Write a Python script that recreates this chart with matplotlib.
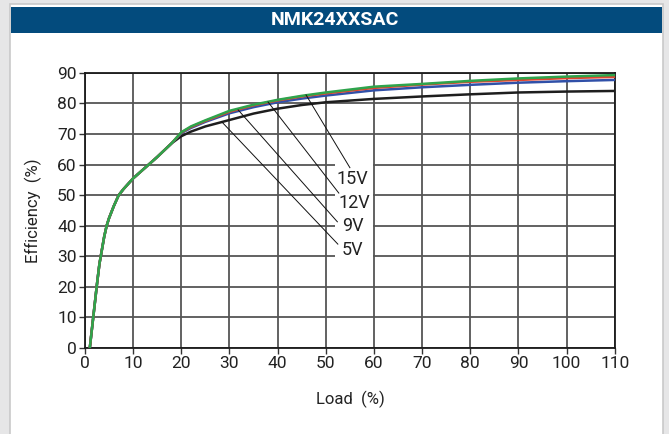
import matplotlib
matplotlib.use("Agg")
import matplotlib.pyplot as plt
from matplotlib.patches import Rectangle

plt.rcParams["font.family"] = ["Liberation Sans Narrow", "Roboto", "DejaVu Sans"]

# load (%) points
load = [1, 1.5, 2, 2.5, 3, 3.5, 4, 4.5, 5, 6, 7, 8, 10, 12, 15, 18, 20,
        22, 25, 30, 35, 40, 45, 50, 60, 70, 80, 90, 100, 110]

# shared low-load part (all outputs overlap below ~20 %)
start = [0, 7, 14, 21, 27.5, 32, 36.5, 40, 42.5, 46.5, 50, 52, 55.5, 58.3, 62.5, 67]

eff_5v = start + [69.3, 70.8, 72.5, 74.6, 76.7, 78.3, 79.5, 80.4, 81.5, 82.3, 83.0, 83.6, 83.9, 84.1]
eff_9v = start + [70.3, 72.0, 74.0, 76.8, 78.8, 80.4, 81.6, 82.6, 84.3, 85.3, 86.1, 86.8, 87.3, 87.7]
eff_12v = start + [70.5, 72.3, 74.3, 77.3, 79.4, 81.0, 82.3, 83.3, 85.1, 86.2, 87.1, 87.7, 88.3, 88.7]
eff_15v = start + [70.6, 72.5, 74.5, 77.6, 79.6, 81.2, 82.5, 83.6, 85.5, 86.4, 87.4, 88.2, 88.8, 89.3]

series = [("5V", eff_5v, "#1e1e1e"), ("9V", eff_9v, "#3050a8"),
          ("12V", eff_12v, "#e0452f"), ("15V", eff_15v, "#2ea44c")]

# leader lines: (label, point on curve, end near label, label position)
leaders = [("15V", (45.9, 82.8), (55.0, 59.0), (55.6, 55.3)),
           ("12V", (38.0, 80.5), (52.7, 50.7), (55.9, 47.4)),
           ("9V", (31.8, 77.9), (52.4, 41.3), (55.6, 39.9)),
           ("5V", (28.4, 74.0), (52.5, 34.0), (55.6, 32.0))]

fig = plt.figure(figsize=(6.69, 4.34), dpi=100)
fig.patch.set_facecolor("#e6e6e7")

# white panel and blue header (behind the axes)
fig.patches.append(Rectangle((0.015, -0.01), 0.976, 1.0, transform=fig.transFigure,
                             facecolor="white", edgecolor="#c9c9c9", lw=1.2, zorder=-2))
fig.patches.append(Rectangle((0.016, 0.924), 0.974, 0.060, transform=fig.transFigure,
                             facecolor="#034b7d", edgecolor="none", zorder=-1))
fig.text(0.5, 0.954, "NMK24XXSAC", color="white", fontsize=14, fontweight="bold",
         ha="center", va="center")

ax = fig.add_axes([0.127, 0.198, 0.792, 0.634])
ax.patch.set_alpha(0)
ax.set_xlim(0, 110)
ax.set_ylim(0, 90)
ax.set_xticks(range(0, 111, 10))
ax.set_yticks(range(0, 91, 10))
ax.set_axisbelow(True)
ax.grid(True, color="#555555", lw=1.3)
for s in ax.spines.values():
    s.set_color("#1a1a1a")
    s.set_linewidth(1.3)
ax.tick_params(length=4, width=1, color="#333333", labelsize=12.5, labelcolor="#222222", pad=2)

ax.add_patch(Rectangle((51.9, 28.0), 7.8, 33.0, facecolor="white", edgecolor="none", zorder=1))

for name, eff, col in series:
    ax.plot(load, eff, color=col, lw=1.8, zorder=3, solid_capstyle="round")

for name, p0, p1, pt in leaders:
    ax.plot([p0[0], p1[0]], [p0[1], p1[1]], color="#111111", lw=0.7, zorder=4)
    ax.text(pt[0], pt[1], name, fontsize=13, ha="center", va="center", color="#222222", zorder=5)

ax.set_xlabel("Load  (%)", fontsize=12, color="#222222", labelpad=14)
ax.set_ylabel("Efficiency  (%)", fontsize=12, color="#222222", labelpad=11)

fig.savefig("out.png", dpi=100, facecolor=fig.get_facecolor())
